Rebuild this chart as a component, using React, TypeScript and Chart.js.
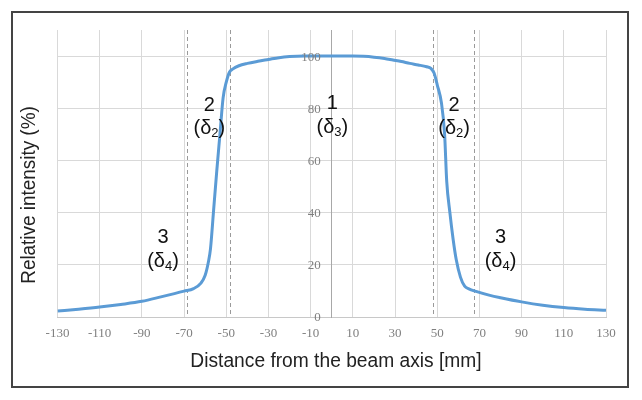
import React, { useEffect, useRef } from "react";
import { Chart, registerables } from "chart.js";

Chart.register(...registerables);

const xTicks = [-130, -110, -90, -70, -50, -30, -10, 10, 30, 50, 70, 90, 110, 130];
const yTicks = [0, 20, 40, 60, 80, 100];

const distance = [
  -130, -120, -110, -100, -90, -81, -70, -65.5, -62, -60, -58.5, -57.5, -56, -54.5, -53, -51.5, -50,
  -48.5, -47, -44, -40, -35, -30, -25, -20, -13, 0, 10, 15, 20, 25, 29, 33, 37, 41, 45, 47, 48.5, 50,
  52, 53.5, 54.5, 56, 57.5, 59, 61, 63, 65, 68, 75, 80, 90, 100, 110, 120, 130,
];
const intensity = [
  2.3, 3.0, 3.8, 4.8, 6.0, 7.7, 9.9, 10.9, 13, 16, 21, 26, 41, 56, 70, 84, 90, 93.8, 95, 96.3, 97.2,
  98, 98.7, 99.4, 99.8, 100, 100, 100, 99.9, 99.6, 99.1, 98.5, 97.9, 97.2, 96.6, 95.9, 95.3, 93.5, 89,
  82, 70, 52, 40, 30, 22, 15.3, 11.8, 10.8, 9.9, 8.3, 7.4, 5.8, 4.5, 3.6, 3.0, 2.6,
];

const dashLines = [-68.5, -48, 48, 67.5];

const zoneNumbers = ["3", "2", "1", "2", "3"];
const zoneSymbols = ["δ", "δ", "δ", "δ", "δ"];
const zoneSubs = ["4", "2", "3", "2", "4"];
const zoneX = [-80, -58, 0.3, 58, 80];
const zoneNumY = [30.6, 81.2, 81.8, 81.2, 30.6];
const zoneSymY = [21.2, 72.2, 72.6, 72.2, 21.2];

const xTitle = "Distance from the beam axis [mm]";
const yTitle = "Relative intensity (%)";

const overlay = {
  id: "overlay",
  beforeDatasetsDraw(chart: any) {
    const { ctx, scales, chartArea } = chart;
    ctx.save();
    ctx.strokeStyle = "#9a9a9a";
    ctx.lineWidth = 1;
    ctx.setLineDash([4, 3]);
    dashLines.forEach((v) => {
      const px = Math.round(scales.x.getPixelForValue(v)) + 0.5;
      ctx.beginPath();
      ctx.moveTo(px, chartArea.top);
      ctx.lineTo(px, chartArea.bottom);
      ctx.stroke();
    });
    ctx.restore();
  },
  afterDraw(chart: any) {
    const { ctx, scales } = chart;
    ctx.save();
    // frame
    ctx.strokeStyle = "#444";
    ctx.lineWidth = 2;
    ctx.strokeRect(12, 12, 616, 375);
    // y tick labels, left of the central axis
    ctx.fillStyle = "#7f7f7f";
    ctx.font = "13px 'Liberation Serif'";
    ctx.textAlign = "right";
    ctx.textBaseline = "middle";
    const axisX = scales.x.getPixelForValue(0);
    yTicks.forEach((v) => {
      ctx.fillText(String(v), axisX - 11, scales.y.getPixelForValue(v) + 1);
    });
    // zone labels
    ctx.fillStyle = "#111";
    ctx.textBaseline = "middle";
    zoneNumbers.forEach((n, i) => {
      const px = scales.x.getPixelForValue(zoneX[i]);
      const py1 = scales.y.getPixelForValue(zoneNumY[i]);
      const py2 = scales.y.getPixelForValue(zoneSymY[i]);
      ctx.font = "20px 'Liberation Sans'";
      ctx.textAlign = "center";
      ctx.fillText(n, px, py1);
      const main = "(" + zoneSymbols[i];
      ctx.font = "20px 'Liberation Sans'";
      const w1 = ctx.measureText(main).width;
      ctx.font = "13px 'Liberation Sans'";
      const w2 = ctx.measureText(zoneSubs[i]).width;
      ctx.font = "20px 'Liberation Sans'";
      const w3 = ctx.measureText(")").width;
      const total = w1 + w2 + w3;
      let sx = px - total / 2;
      ctx.textAlign = "left";
      ctx.fillText(main, sx, py2);
      sx += w1;
      ctx.font = "13px 'Liberation Sans'";
      ctx.fillText(zoneSubs[i], sx, py2 + 5);
      sx += w2;
      ctx.font = "20px 'Liberation Sans'";
      ctx.fillText(")", sx, py2);
    });
    // titles
    ctx.fillStyle = "#222";
    ctx.textAlign = "center";
    ctx.textBaseline = "middle";
    ctx.font = "20px 'Liberation Sans'";
    ctx.save();
    ctx.translate(336, 361);
    ctx.scale(0.96, 1);
    ctx.fillText(xTitle, 0, 0);
    ctx.restore();
    ctx.save();
    ctx.translate(29, 195);
    ctx.rotate(-Math.PI / 2);
    ctx.scale(0.945, 1);
    ctx.fillText(yTitle, 0, 0);
    ctx.restore();
    ctx.restore();
  },
};

export default function App() {
  const ref = useRef<HTMLCanvasElement>(null);
  useEffect(() => {
    if (!ref.current) return;
    const chart = new Chart(ref.current, {
      type: "line",
      data: {
        datasets: [
          {
            data: distance.map((x, i) => ({ x, y: intensity[i] })),
            borderColor: "#5b9bd5",
            borderWidth: 3,
            pointRadius: 0,
            cubicInterpolationMode: "monotone",
            fill: false,
          },
        ],
      },
      options: {
        animation: false,
        responsive: false,
        layout: { padding: { left: 57.5, right: 36, top: 30, bottom: 53 } },
        plugins: { legend: { display: false }, tooltip: { enabled: false } },
        scales: {
          x: {
            type: "linear",
            min: -130,
            max: 130,
            afterBuildTicks: (s: any) => {
              s.ticks = xTicks.map((v) => ({ value: v }));
            },
            afterFit: (s: any) => {
              s.height = 30;
            },
            grid: { color: "#d9d9d9", drawTicks: false, lineWidth: 1 },
            border: { color: "#c8c8c8" },
            ticks: {
              padding: 9,
              color: "#7f7f7f",
              font: { family: "'Liberation Serif'", size: 13 },
              autoSkip: false,
              maxRotation: 0,
            },
          },
          y: {
            type: "linear",
            min: 0,
            max: 110,
            position: { x: 0 } as any,
            afterBuildTicks: (s: any) => {
              s.ticks = yTicks.map((v) => ({ value: v }));
            },
            grid: { color: "#d9d9d9", drawTicks: false },
            border: { color: "#a8a8a8" },
            ticks: { display: false },
          },
        },
      },
      plugins: [overlay],
    });
    return () => chart.destroy();
  }, []);
  return (
    <div style={{ position: "fixed", left: 0, top: 0, width: 642, height: 400, background: "#fff" }}>
      <canvas ref={ref} width={642} height={400} style={{ width: 642, height: 400 }} />
    </div>
  );
}
